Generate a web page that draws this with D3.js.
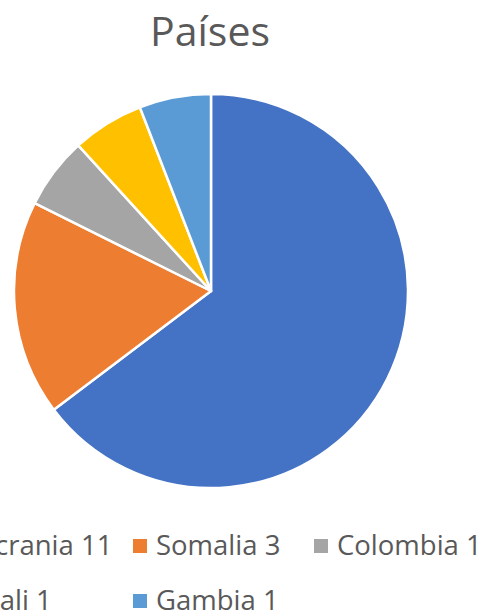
<!DOCTYPE html>
<html>
<head>
<meta charset="utf-8">
<script src="https://cdn.jsdelivr.net/npm/d3@7"></script>
<style>
  body { margin: 0; background: #fff; }
  svg { display: block; }
</style>
</head>
<body>
<div id="chart"></div>
<script>
// Chart data
var countries = ["Ucrania", "Somalia", "Colombia", "Mali", "Gambia"];
var counts = [11, 3, 1, 1, 1];
var colors = ["#4472C4", "#ED7D31", "#A5A5A5", "#FFC000", "#5B9BD5"];
var title = "Países";

var svgWidth = 486;
var svgHeight = 613;
var center = {x: 211, y: 291};
var radius = 197;

var svg = d3.select("#chart").append("svg").attr("width", svgWidth).attr("height", svgHeight);

// Title
svg.append("text")
    .attr("x", 210)
    .attr("y", 46)
    .attr("text-anchor", "middle")
    .attr("font-family", "'Open Sans', sans-serif")
    .attr("font-size", "41px")
    .attr("fill", "#595959")
    .text(title);

var data = countries.map((c, i) => ({name: c, value: counts[i], color: colors[i]}));

var pie = d3.pie().sort(null).value(d => d.value);
var arc = d3.arc().innerRadius(0).outerRadius(radius);

var pieGroup = svg.append("g").attr("transform", `translate(${center.x},${center.y})`);
pieGroup.selectAll("path").data(pie(data)).enter().append("path")
    .attr("d", arc)
    .attr("fill", d => d.data.color)
    .attr("stroke", "#fff")
    .attr("stroke-width", 2.5)
    .attr("stroke-linejoin", "round");

// Legend, 3 columns, partly cut off at the left like the original
var colX = d3.scaleLinear().domain([0, 1]).range([-48, 133]);
var rowY = d3.scaleLinear().domain([0, 1]).range([555, 610]);

var legend = svg.append("g");
var items = legend.selectAll("g").data(data).enter().append("g")
    .attr("transform", (d, i) => `translate(${colX(i % 3)},${rowY(Math.floor(i / 3))})`);
items.append("rect")
    .attr("x", 0)
    .attr("y", -16)
    .attr("width", 14)
    .attr("height", 14)
    .attr("fill", d => d.color);
items.append("text")
    .attr("x", 23)
    .attr("y", 0)
    .attr("font-family", "'Open Sans', sans-serif")
    .attr("font-size", "27.5px")
    .attr("fill", "#595959")
    .text(d => `${d.name} ${d.value}`);
</script>
</body>
</html>
